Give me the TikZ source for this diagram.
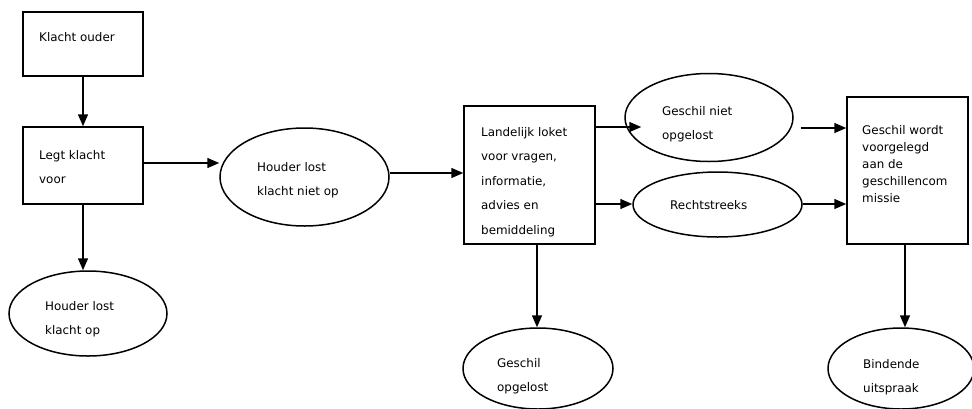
\documentclass[tikz,border=0pt]{standalone}
\usepackage{fontspec}
\setmainfont{DejaVu Sans}
\usetikzlibrary{shapes.geometric,arrows.meta,calc}
\begin{document}
\begin{tikzpicture}[x=1pt,y=-1pt,
  shp/.style={draw=black,line width=1.5pt,inner sep=0pt},
  rbox/.style={shp,rectangle,minimum width=#1},
  ell/.style={shp,ellipse},
  txt/.style={anchor=west,inner sep=0pt,align=left,font=\fontsize{11.9}{24.5}\selectfont},
  txtb/.style={anchor=west,inner sep=0pt,align=left,font=\fontsize{11.9}{17}\selectfont},
  arr/.style={line width=1.5pt,-{Triangle[length=12pt,width=10pt]}}]
\fill[white] (0,0) rectangle (972,408);
\useasboundingbox (0,0) rectangle (972,408);

% shapes
\node[rbox=120pt,minimum height=64pt] (k1) at (83,44) {};
\node[rbox=120pt,minimum height=77pt] (k2) at (83,165.5) {};
\node[ell,minimum width=158pt,minimum height=85pt] (e1) at (88,313.5) {};
\node[ell,minimum width=169pt,minimum height=98pt] (e2) at (304.5,177) {};
\node[rbox=131pt,minimum height=138pt] (k3) at (529.5,175) {};
\node[ell,minimum width=168pt,minimum height=88pt] (e3) at (709,117.5) {};
\node[ell,minimum width=169pt,minimum height=65pt] (e4) at (717.5,204.5) {};
\node[ell,minimum width=150pt,minimum height=81pt] (e5) at (538,368.5) {};
\node[rbox=121pt,minimum height=147pt] (k4) at (907.5,170.5) {};
\node[ell,minimum width=146pt,minimum height=81pt] (e6) at (901,368.5) {};

% texts
\node[txt] (t1) at (39,37) {Klacht ouder};
\node[txt] (t2) at (39,167) {Legt klacht\\voor};
\node[txt] (t3) at (45,319) {Houder lost\\klacht op};
\node[txt] (t4) at (257,180) {Houder lost\\klacht niet op};
\node[txt] (t5) at (481,182) {Landelijk loket\\voor vragen,\\informatie,\\advies en\\bemiddeling};
\node[txt] (t6) at (662,124) {Geschil niet\\opgelost};
\node[txt] (t7) at (670,205) {Rechtstreeks};
\node[txt] (t8) at (497,376) {Geschil\\opgelost};
\node[txtb] (t9) at (862,164) {Geschil wordt\\voorgelegd\\aan de\\geschillencom\\missie};
\node[txt] (t10) at (863,377) {Bindende\\uitspraak};

% connectors
\draw[arr] (k1.south) -- (k2.north);
\draw[arr] (k2.south) -- (e1.north -| k2.south);
\draw[arr] (k2.east |- 0,163) -- (e2.west |- 0,163);
\draw[arr] (e2.east |- 0,173) -- (k3.west |- 0,173);
\draw[arr] (k3.east |- 0,127) -- ($(e3.west |- 0,127)+(17,0)$);
\draw[arr] (k3.east |- 0,204) -- (e4.west |- 0,204);
\draw[arr] ($(e3.east |- 0,128)+(7,0)$) -- (k4.west |- 0,128);
\draw[arr] (e4.east |- 0,204) -- (k4.west |- 0,204);
\draw[arr] (k3.south -| 537,0) -- (e5.north -| 537,0);
\draw[arr] (k4.south -| 905,0) -- (e6.north -| 905,0);
\end{tikzpicture}
\end{document}
